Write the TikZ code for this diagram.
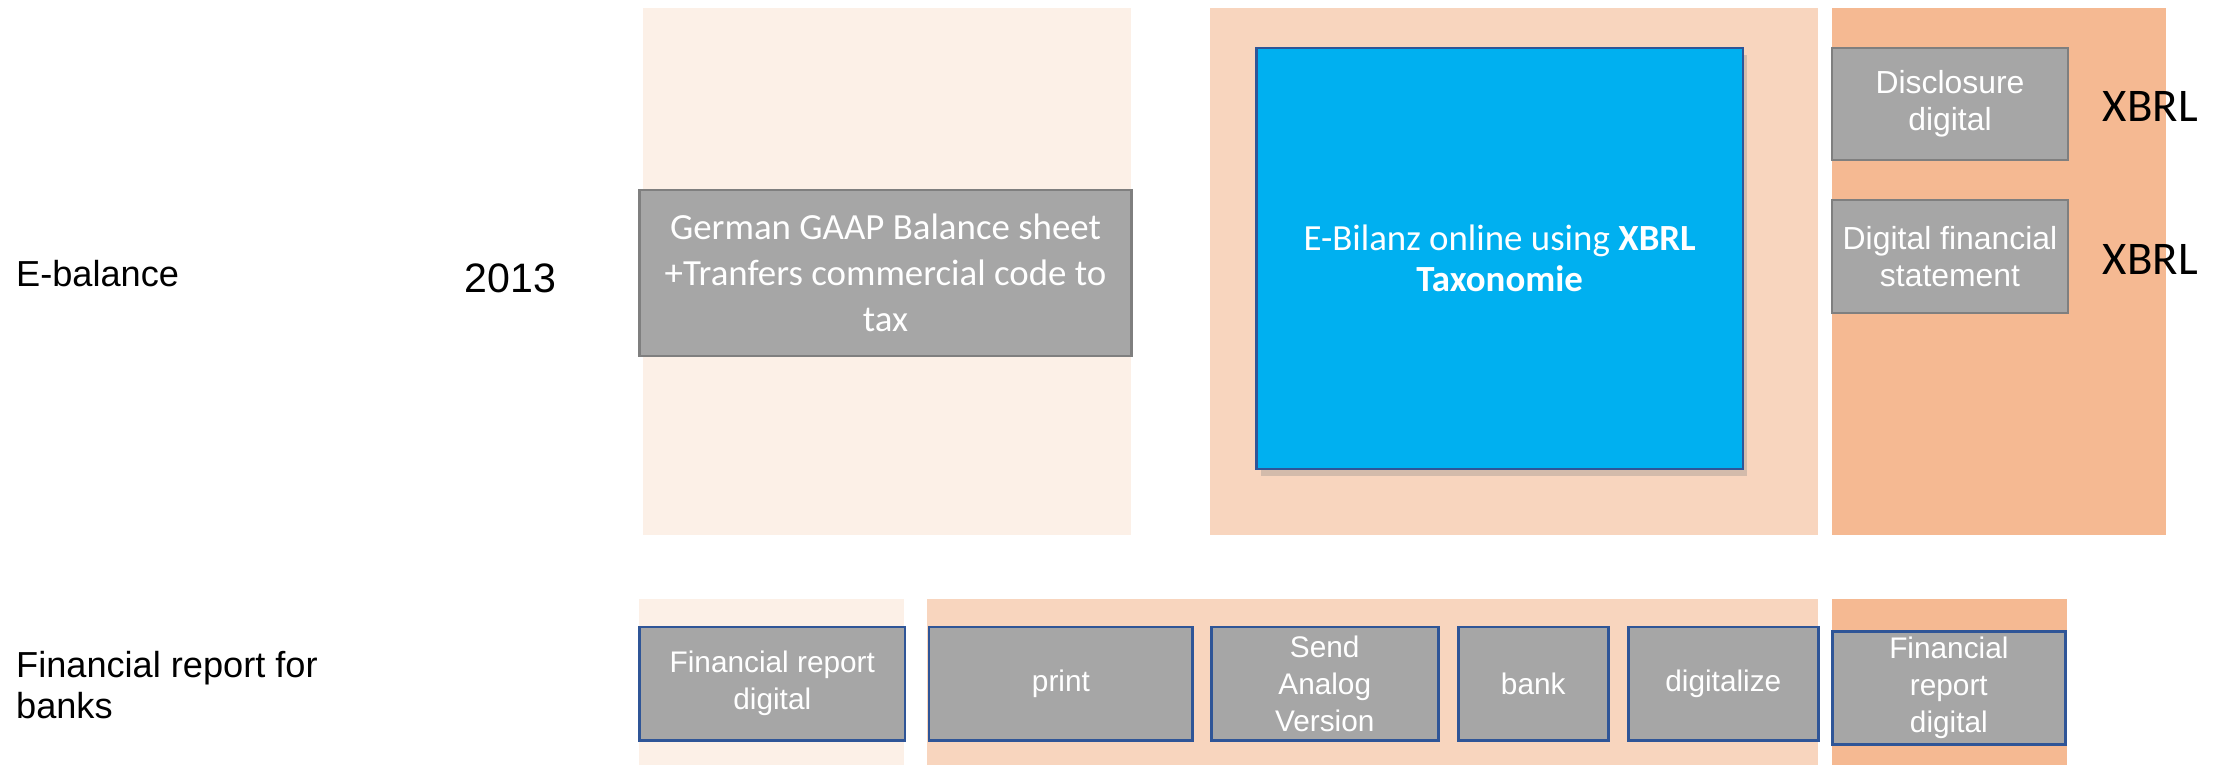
\documentclass[tikz,border=0pt]{standalone}
\usepackage{fontspec}
\setmainfont{Liberation Sans}
\newfontfamily\calibri{Carlito}
\usepackage{xcolor}
\usepackage{tikz}
\usetikzlibrary{
	positioning,
	shadows
	}
\definecolor{bandlight}{HTML}{FCF0E7}
\definecolor{bandmid}{HTML}{F8D5BE}
\definecolor{banddark}{HTML}{F5B992}
\definecolor{boxfill}{HTML}{A6A6A6}
\definecolor{boxline}{HTML}{7F7F7F}
\definecolor{skyblue}{HTML}{00B0F0}
\definecolor{navyline}{HTML}{2F5597}
\tikzstyle{band}=[fill=#1,inner sep=0pt,anchor=north west,minimum height=186pt]
\tikzstyle{lowband}=[fill=#1,inner sep=0pt,anchor=north west,minimum height=58.5pt]
\tikzstyle{graybox}=[draw=boxline,line width=0.8pt,fill=boxfill,text=white,align=center,inner sep=0pt,anchor=north west,font=\fontsize{11.25}{13}\selectfont]
\tikzstyle{stepbox}=[graybox,draw=navyline,line width=1pt,minimum height=40pt,font=\fontsize{10.5}{13}\selectfont]
\tikzstyle{rowlabel}=[anchor=west,align=left,inner sep=0pt,font=\fontsize{12.75}{14.5}\selectfont]

\begin{document}
\begin{tikzpicture}[x=0.5pt,y=-0.5pt]
\useasboundingbox (0,0) rectangle (1568,539);

% E-balance row
\node[band=bandlight,minimum width=172pt] (col1) at (453,5) {};
\node[band=bandmid,minimum width=214pt] (col2) at (853,5) {};
\node[band=banddark,minimum width=118pt] (col3) at (1291,5) {};

\node[graybox,minimum width=173.5pt,minimum height=58.5pt,font=\calibri\fontsize{13}{16.25}\selectfont] (gaap) at (450,133)
   {German GAAP Balance sheet\\+Tranfers commercial code to\\tax};
\node[graybox,draw=navyline,fill=skyblue,minimum width=171.5pt,minimum height=148.5pt,
   drop shadow={shadow xshift=1.5pt,shadow yshift=-2.5pt,opacity=0.3},
   font=\calibri\fontsize{13}{14.5}\selectfont] (bilanz) at (885,33)
   {E-Bilanz online using \textbf{XBRL}\\\textbf{Taxonomie}};
\node[graybox,minimum width=83pt,minimum height=39.5pt] (disc) at (1291,33) {Disclosure\\digital};
\node[graybox,minimum width=83pt,minimum height=40pt] (dfs) at (1291,140) {Digital financial\\statement};

\node[font=\calibri\fontsize{16.5}{18}\selectfont] (xbrl1) at (1516,75) {XBRL};
\node[font=\calibri\fontsize{16.5}{18}\selectfont] (xbrl2) at (1516,183) {XBRL};

\node[rowlabel] (ebal) at (11,193) {E-balance};
\node[font=\fontsize{14.5}{16}\selectfont] (year) at (360,196) {2013};

% bank report row
\node[lowband=bandlight,minimum width=93.5pt] (bcol1) at (450,422) {};
\node[lowband=bandmid,minimum width=314pt] (bcol2) at (653,422) {};
\node[lowband=banddark,minimum width=83pt] (bcol3) at (1291,422) {};

\node[stepbox,minimum width=93.5pt] (frd1) at (450,441) {Financial report\\digital};
\node[stepbox,minimum width=93pt] (print) at (654,441) {print};
\node[stepbox,minimum width=80pt,right=5.5pt of print] (send) {Send\\Analog\\Version};
\node[stepbox,minimum width=53pt,right=6pt of send] (bank) {bank};
\node[stepbox,minimum width=67pt,right=6pt of bank] (digi) {digitalize};
\node[stepbox,minimum width=82pt] (frd2) at (1291,444) {Financial\\report\\digital};

\node[rowlabel] (banks) at (11,483) {Financial report for\\banks};
\end{tikzpicture}
\end{document}
